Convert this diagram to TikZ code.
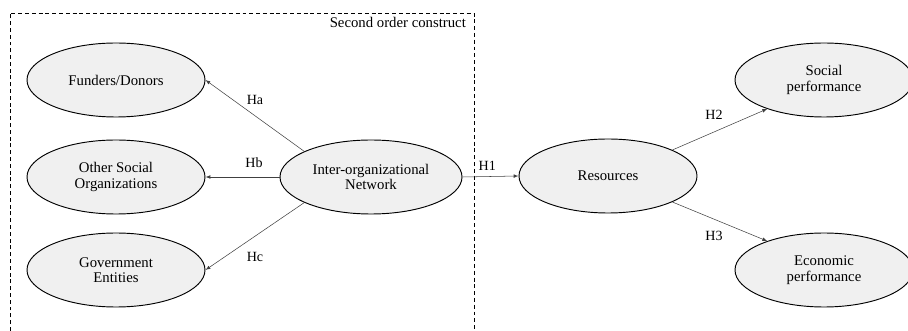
\documentclass[tikz,border=0pt]{standalone}
\usepackage{tikz}
\usepackage{fontspec}
\setmainfont{Liberation Serif}
\usetikzlibrary{arrows}
\usetikzlibrary{shapes}

\begin{document}
\begin{tikzpicture}[scale=1, >=latex,
	construct/.style={ellipse, draw=black, line width=0.8pt, fill=gray!12,
		minimum width=5.34cm, minimum height=2.22cm, inner sep=0pt,
		align=center, font=\fontsize{12.6}{13.2}\selectfont},
	hyp/.style={->, draw=black!75, line width=0.45pt},
	hyplabel/.style={font=\fontsize{12}{12}\selectfont}]

	\useasboundingbox (0,0) rectangle (27.24,9.93);

	% second order construct box (open at the bottom)
	\draw[dash pattern=on 3.4pt off 2.4pt, line width=0.7pt] (0.3,-0.2) -- (0.3,9.54) -- (14.22,9.54) -- (14.22,-0.2);
	\node[anchor=east, font=\fontsize{12.6}{12.6}\selectfont] (soc) at (14.1,9.27) {Second order construct};

	% latent variables
	\node[construct] (funders) at (3.48, 7.53) {Funders/Donors};
	\node[construct] (other) at (3.48, 4.62) {Other Social\\Organizations};
	\node[construct] (gov) at (3.48, 1.83) {Government\\Entities};
	\node[construct, minimum width=5.46cm] (inter) at (11.13, 4.62) {Inter-organizational\\Network};
	\node[construct] (res) at (18.24, 4.65) {Resources};
	\node[construct] (social) at (24.72, 7.53) {Social\\performance};
	\node[construct] (econ) at (24.72, 1.83) {Economic\\performance};

	% hypotheses
	\draw[hyp] (inter.159) -- (funders.east);
	\draw[hyp] (inter.west) -- (other.east);
	\draw[hyp] (inter.201) -- (gov.east);
	\draw[hyp] (inter.east) -- (res.west);
	\draw[hyp] (res.22) -- (social.207);
	\draw[hyp] (res.-22) -- (econ.153);

	% labels
	\node[hyplabel] (ha) at (7.65, 6.93) {Ha};
	\node[hyplabel] (hb) at (7.62, 5.04) {Hb};
	\node[hyplabel] (hc) at (7.65, 2.22) {Hc};
	\node[hyplabel] (h1) at (14.62, 4.95) {H1};
	\node[hyplabel] (h2) at (21.42, 6.48) {H2};
	\node[hyplabel] (h3) at (21.42, 2.85) {H3};
\end{tikzpicture}
\end{document}
